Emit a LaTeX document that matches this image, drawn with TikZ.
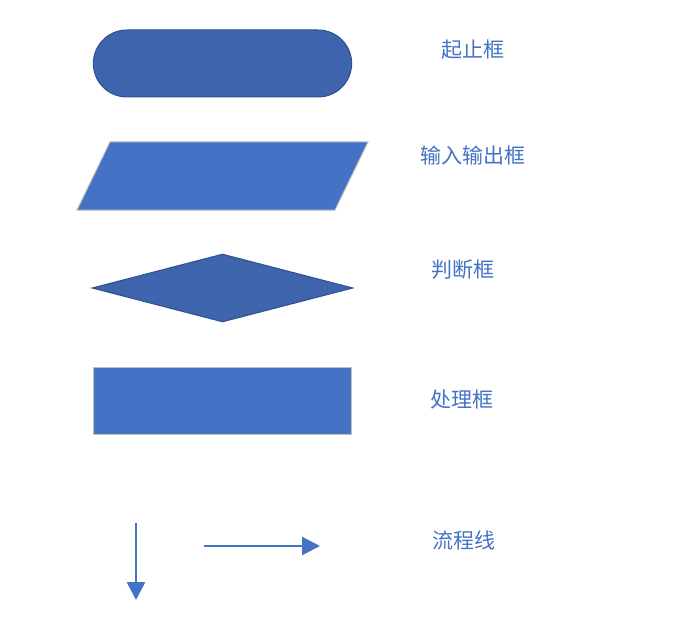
\documentclass[tikz,border=0pt]{standalone}
\usepackage{fontspec}
\newfontfamily\cjk{Noto Sans CJK SC}
\usepackage{tikz}
\usetikzlibrary{positioning}
\usetikzlibrary{shapes.geometric,shapes.misc}
\usetikzlibrary{arrows.meta}

\definecolor{flowblue}{HTML}{4472C4}
\definecolor{flowdark}{HTML}{3D64AC}
\definecolor{flowline}{HTML}{2F528F}
\definecolor{flowgray}{HTML}{BFBFBF}

\tikzset{
  darkshape/.style={fill=flowdark, draw=flowline, line width=1pt},
  lightshape/.style={fill=flowblue, draw=flowgray, line width=1pt},
  legendtext/.style={text=flowblue, font=\cjk\fontsize{21}{24}\selectfont, inner sep=0pt},
  flowarrow/.style={draw=flowblue, line width=2.8pt, -{Triangle[length=18pt,width=18pt]}}
}

\begin{document}
\begin{tikzpicture}[x=1pt,y=-1pt]
      \useasboundingbox (0,0) rectangle (675,623);

      \node[rounded rectangle, darkshape, minimum width=265pt, minimum height=67pt] (term) at (222.5,63.5) {};
      % input/output box
      \draw[lightshape] (110,142) -- (368,142) -- (335,210) -- (77,210) -- cycle;
      \node[diamond, darkshape, minimum width=261pt, minimum height=68pt, inner sep=0pt] (judge) at (222.5,288) {};
      \node[rectangle, lightshape, minimum width=258pt, minimum height=67pt] (proc) at (222,400.5) {};

      \coordinate (downa) at (136,523);
      \coordinate (downb) at (136,600);
      \coordinate (righta) at (204,546);
      \coordinate (rightb) at (320,546);
      \draw[flowarrow] (downa) -- (downb);
      \draw[flowarrow] (righta) -- (rightb);

      \node[legendtext] (termtxt) at (473,50) {起止框};
      \node[legendtext] (iotxt) at (473,155) {输入输出框};
      \node[legendtext] (judgetxt) at (463,270) {判断框};
      \node[legendtext] (proctxt) at (462,400) {处理框};
      \node[legendtext] (linetxt) at (464,540) {流程线};
    \end{tikzpicture}
\end{document}
